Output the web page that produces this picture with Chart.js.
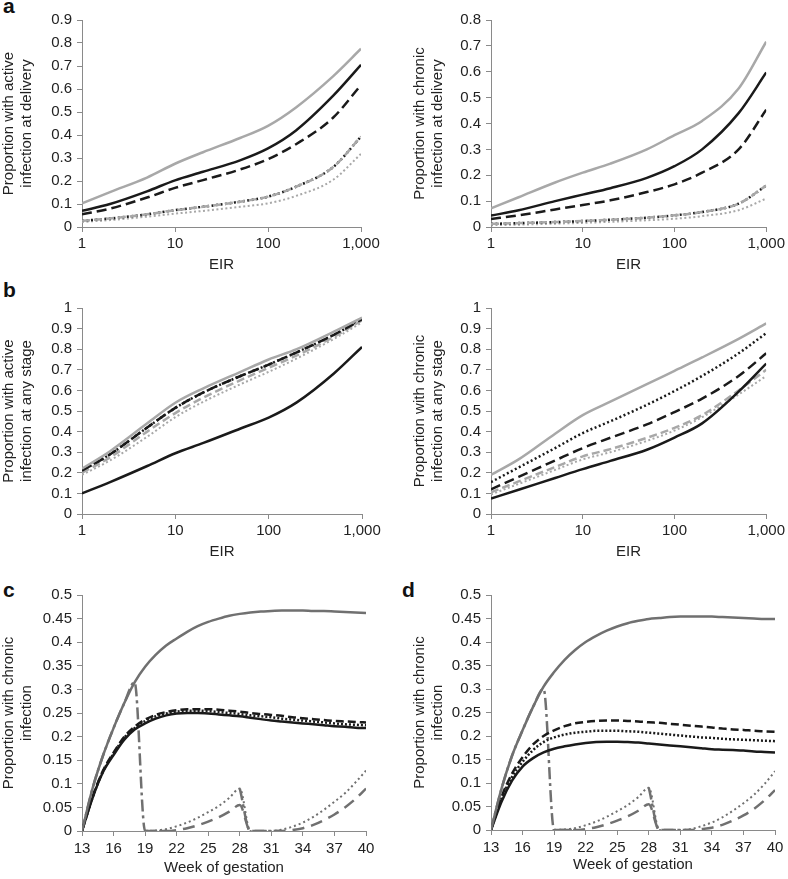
<!DOCTYPE html>
<html>
<head>
<meta charset="utf-8">
<script src="https://cdn.jsdelivr.net/npm/chart.js@4.4.1/dist/chart.umd.min.js"></script>
<style>
  html, body { margin: 0; padding: 0; background: #fff; }
  body { width: 788px; height: 879px; position: relative; overflow: hidden; font-family: "Liberation Sans", Arial, sans-serif; }
  canvas { position: absolute; }
  .letter { position: absolute; font-weight: bold; font-size: 21px; line-height: 21px; color: #111; }
</style>
</head>
<body>
<div class="letter" style="left:3px;top:-5px">a</div>
<div class="letter" style="left:3px;top:279px">b</div>
<div class="letter" style="left:3px;top:579px">c</div>
<div class="letter" style="left:402px;top:579px">d</div>

<canvas id="a-left" width="394" height="285" style="left:0;top:0"></canvas>
<canvas id="a-right" width="394" height="285" style="left:394px;top:0"></canvas>
<canvas id="b-left" width="394" height="290" style="left:0;top:285px"></canvas>
<canvas id="b-right" width="394" height="290" style="left:394px;top:285px"></canvas>
<canvas id="c-panel" width="394" height="304" style="left:0;top:575px"></canvas>
<canvas id="d-panel" width="394" height="304" style="left:394px;top:575px"></canvas>

<script>
// x values
const eir = [1, 2, 5, 10, 20, 50, 100, 200, 500, 1000];
const eirTicks = [1, 10, 100, 1000];
const weeks = [13, 14, 15, 16, 17, 18, 19, 20, 21, 22, 23, 24, 25, 26, 27, 28, 29, 30, 31, 32, 33, 34, 35, 36, 37, 38, 39, 40];
const weekTicks = [13, 16, 19, 22, 25, 28, 31, 34, 37, 40];

// a: active infection at delivery
const aActGraySolid   = [0.103, 0.152, 0.215, 0.275, 0.325, 0.387, 0.44, 0.52, 0.655, 0.775];
const aActBlackSolid  = [0.07, 0.1, 0.155, 0.203, 0.24, 0.29, 0.342, 0.42, 0.57, 0.705];
const aActBlackDashed = [0.055, 0.08, 0.128, 0.17, 0.204, 0.25, 0.295, 0.36, 0.475, 0.617];
const aActGrayDashed  = [0.027, 0.037, 0.055, 0.073, 0.088, 0.11, 0.132, 0.175, 0.26, 0.393];
const aActBlackDotted = [0.027, 0.037, 0.055, 0.073, 0.088, 0.11, 0.132, 0.175, 0.26, 0.393];
const aActGrayDotted  = [0.022, 0.03, 0.045, 0.058, 0.07, 0.088, 0.103, 0.135, 0.205, 0.318];

// a: chronic infection at delivery
const aChrGraySolid   = [0.072, 0.115, 0.172, 0.21, 0.245, 0.3, 0.355, 0.41, 0.535, 0.716];
const aChrBlackSolid  = [0.044, 0.065, 0.1, 0.125, 0.15, 0.19, 0.235, 0.3, 0.44, 0.597];
const aChrBlackDashed = [0.031, 0.045, 0.068, 0.085, 0.103, 0.135, 0.165, 0.21, 0.3, 0.453];
const aChrGrayDashed  = [0.012, 0.015, 0.019, 0.023, 0.028, 0.036, 0.045, 0.058, 0.09, 0.16];
const aChrBlackDotted = [0.012, 0.015, 0.019, 0.023, 0.028, 0.036, 0.045, 0.058, 0.09, 0.16];
const aChrGrayDotted  = [0.007, 0.009, 0.013, 0.016, 0.02, 0.026, 0.032, 0.042, 0.065, 0.11];

// b: active infection at any stage
const bActGraySolid   = [0.22, 0.305, 0.44, 0.54, 0.61, 0.69, 0.75, 0.8, 0.885, 0.953];
const bActBlackSolid  = [0.1, 0.155, 0.233, 0.295, 0.345, 0.415, 0.468, 0.542, 0.682, 0.811];
const bActBlackDashed = [0.21, 0.29, 0.42, 0.515, 0.59, 0.67, 0.725, 0.785, 0.87, 0.945];
const bActGrayDashed  = [0.2, 0.275, 0.4, 0.49, 0.565, 0.65, 0.71, 0.77, 0.86, 0.94];
const bActBlackDotted = [0.21, 0.29, 0.42, 0.515, 0.59, 0.67, 0.725, 0.785, 0.87, 0.945];
const bActGrayDotted  = [0.19, 0.26, 0.375, 0.47, 0.545, 0.63, 0.69, 0.755, 0.85, 0.93];

// b: chronic infection at any stage
const bChrGraySolid   = [0.19, 0.265, 0.39, 0.48, 0.545, 0.63, 0.695, 0.76, 0.85, 0.925];
const bChrBlackSolid  = [0.075, 0.118, 0.175, 0.218, 0.258, 0.312, 0.371, 0.44, 0.594, 0.73];
const bChrBlackDashed = [0.12, 0.18, 0.26, 0.32, 0.37, 0.435, 0.495, 0.56, 0.67, 0.78];
const bChrGrayDashed  = [0.105, 0.158, 0.228, 0.28, 0.315, 0.37, 0.418, 0.48, 0.6, 0.7];
const bChrBlackDotted = [0.155, 0.226, 0.32, 0.393, 0.45, 0.53, 0.597, 0.67, 0.78, 0.878];
const bChrGrayDotted  = [0.095, 0.146, 0.214, 0.265, 0.3, 0.355, 0.405, 0.47, 0.58, 0.67];

// c: chronic infection by week
const cGraySolid   = [0, 0.09, 0.16, 0.218, 0.27, 0.315, 0.348, 0.373, 0.393, 0.408, 0.422, 0.434, 0.443, 0.45, 0.456, 0.46, 0.463, 0.465, 0.466, 0.467, 0.467, 0.467, 0.466, 0.466, 0.465, 0.464, 0.463, 0.462];
const cBlackSolid  = [0, 0.07, 0.125, 0.161, 0.193, 0.215, 0.228, 0.238, 0.245, 0.249, 0.25, 0.25, 0.249, 0.247, 0.245, 0.243, 0.24, 0.237, 0.234, 0.232, 0.23, 0.228, 0.226, 0.224, 0.222, 0.221, 0.219, 0.218];
const cBlackDashed = [0, 0.072, 0.128, 0.166, 0.199, 0.221, 0.236, 0.246, 0.252, 0.256, 0.258, 0.258, 0.258, 0.257, 0.255, 0.253, 0.25, 0.248, 0.246, 0.244, 0.241, 0.239, 0.237, 0.235, 0.233, 0.232, 0.231, 0.23];
const cBlackDotted = [0, 0.071, 0.126, 0.164, 0.197, 0.218, 0.233, 0.243, 0.249, 0.253, 0.255, 0.255, 0.254, 0.252, 0.25, 0.248, 0.245, 0.243, 0.241, 0.238, 0.236, 0.234, 0.232, 0.23, 0.228, 0.226, 0.225, 0.224];
const cGrayDashDot = [0, 0.09, 0.16, 0.218, 0.27, 0.315, 0, 0, 0, null, null, null, null, null, null, 0.09, 0, 0, 0, 0, null, null, null, null, null, null, null, null];
const cGrayDashed  = [null, null, null, null, null, null, 0, 0, 0, 0.002, 0.006, 0.012, 0.02, 0.029, 0.041, 0.055, 0, 0, 0, 0, 0.002, 0.006, 0.013, 0.023, 0.035, 0.05, 0.068, 0.09];
const cGrayDotted  = [null, null, null, null, null, null, 0, 0.001, 0.004, 0.01, 0.018, 0.028, 0.04, 0.053, 0.07, 0.09, 0, 0, 0, 0.003, 0.009, 0.018, 0.03, 0.045, 0.062, 0.08, 0.103, 0.128];

// d: chronic infection by week
const dGraySolid   = [0, 0.088, 0.158, 0.212, 0.262, 0.305, 0.336, 0.362, 0.383, 0.4, 0.413, 0.424, 0.433, 0.44, 0.445, 0.449, 0.451, 0.453, 0.454, 0.454, 0.454, 0.454, 0.453, 0.452, 0.451, 0.45, 0.449, 0.449];
const dBlackSolid  = [0, 0.06, 0.105, 0.135, 0.153, 0.165, 0.173, 0.178, 0.182, 0.185, 0.187, 0.188, 0.188, 0.187, 0.186, 0.184, 0.182, 0.18, 0.178, 0.176, 0.174, 0.172, 0.171, 0.17, 0.169, 0.167, 0.166, 0.165];
const dBlackDashed = [0, 0.07, 0.12, 0.155, 0.182, 0.2, 0.212, 0.221, 0.227, 0.23, 0.232, 0.233, 0.233, 0.232, 0.231, 0.229, 0.228, 0.226, 0.224, 0.222, 0.22, 0.218, 0.216, 0.214, 0.213, 0.211, 0.21, 0.209];
const dBlackDotted = [0, 0.067, 0.113, 0.145, 0.17, 0.187, 0.197, 0.203, 0.207, 0.209, 0.211, 0.211, 0.211, 0.21, 0.209, 0.207, 0.205, 0.203, 0.201, 0.199, 0.197, 0.196, 0.194, 0.193, 0.192, 0.191, 0.19, 0.189];
const dGrayDashDot = [0, 0.088, 0.158, 0.212, 0.262, 0.3, 0, 0, 0, null, null, null, null, null, null, 0.09, 0, 0, 0, 0, null, null, null, null, null, null, null, null];
const dGrayDashed  = [null, null, null, null, null, null, 0, 0, 0, 0.002, 0.006, 0.012, 0.02, 0.029, 0.041, 0.055, 0, 0, 0, 0, 0.002, 0.005, 0.011, 0.02, 0.031, 0.045, 0.063, 0.085];
const dGrayDotted  = [null, null, null, null, null, null, 0, 0.001, 0.004, 0.01, 0.018, 0.028, 0.04, 0.053, 0.07, 0.09, 0, 0, 0, 0.002, 0.008, 0.016, 0.027, 0.041, 0.057, 0.075, 0.098, 0.125];

Chart.defaults.font.family = '"Liberation Sans", Arial, sans-serif';
Chart.defaults.font.size = 15;
Chart.defaults.color = '#222';

const LIGHT = '#a8a8a8';
const MID = '#707070';
const BLACK = '#1a1a1a';
const AXIS = '#8a8a8a';

function line(xs, ys, color, width, dash) {
  return {
    data: xs.map((x, i) => ({ x: x, y: ys[i] })),
    borderColor: color,
    borderWidth: width,
    borderDash: dash || [],
    fill: false,
    pointRadius: 0,
    cubicInterpolationMode: 'monotone',
    borderCapStyle: 'butt',
    spanGaps: false
  };
}

// box = canvas rect on page, area = plot rect on page
function makePanel(id, box, area, xOpts, yMax, yStep, yTitle, yTitlePad, xTitle, xTitlePad, xTickPad, datasets) {
  const axisGrid = { drawOnChartArea: false, drawTicks: true, tickLength: 5, color: AXIS, lineWidth: 1 };
  return new Chart(document.getElementById(id), {
    type: 'line',
    data: { datasets: datasets },
    options: {
      responsive: false,
      animation: false,
      layout: { padding: { left: 0, top: area.t - box.y, right: box.x + box.w - area.r, bottom: 0 } },
      plugins: { legend: { display: false }, tooltip: { enabled: false } },
      scales: {
        x: Object.assign({
          border: { color: AXIS, width: 1 },
          grid: axisGrid,
          ticks: { padding: xTickPad, autoSkip: false, maxRotation: 0 },
          title: { display: true, text: xTitle, padding: { top: 0, bottom: xTitlePad } },
          afterFit: s => { s.height = box.y + box.h - area.b; }
        }, xOpts),
        y: {
          type: 'linear',
          min: 0,
          max: yMax,
          border: { color: AXIS, width: 1 },
          grid: axisGrid,
          ticks: { stepSize: yStep, autoSkip: false, padding: 5, callback: v => String(+v.toFixed(2)) },
          title: { display: true, text: yTitle, padding: { top: yTitlePad, bottom: 0 }, font: { lineHeight: 1.2 } },
          afterFit: s => { s.width = area.l - box.x; }
        }
      }
    }
  });
}

const logX = {
  type: 'logarithmic',
  min: 1,
  max: 1000,
  afterBuildTicks: s => { s.ticks = eirTicks.map(v => ({ value: v })); }
};
logX.ticks = { callback: v => Number(v).toLocaleString('en-US') };

const weekX = {
  type: 'linear',
  min: 13,
  max: 40,
  afterBuildTicks: s => { s.ticks = weekTicks.map(v => ({ value: v })); }
};

function eirSets(gs, bs, bd, gd, bdot, gdot) {
  return [
    line(eir, gs, LIGHT, 2.5),
    line(eir, bs, BLACK, 2.5),
    line(eir, bd, BLACK, 2.5, [10, 5]),
    line(eir, gd, LIGHT, 2.5, [8, 4]),
    line(eir, bdot, BLACK, 2.5, [2, 2.5]),
    line(eir, gdot, LIGHT, 2, [2, 2.5])
  ];
}

function weekSets(gs, bs, bd, bdot, gdd, gd, gdot) {
  return [
    line(weeks, gs, MID, 2.5),
    line(weeks, bs, BLACK, 2.5),
    line(weeks, bd, BLACK, 2.5, [8, 4]),
    line(weeks, bdot, BLACK, 2.5, [2, 2]),
    line(weeks, gdd, MID, 2.5, [12, 4, 3, 4]),
    line(weeks, gd, MID, 2.5, [12, 7]),
    line(weeks, gdot, MID, 2, [2, 3])
  ];
}

const chartA1 = makePanel('a-left', { x: 0, y: 0, w: 394, h: 285 }, { l: 82, t: 20, r: 361, b: 227 },
  Object.assign({}, logX), 0.9, 0.1, ['Proportion with active', 'infection at delivery'], 0, 'EIR', 11, 5,
  eirSets(aActGraySolid, aActBlackSolid, aActBlackDashed, aActGrayDashed, aActBlackDotted, aActGrayDotted));

const chartA2 = makePanel('a-right', { x: 394, y: 0, w: 394, h: 285 }, { l: 491, t: 20, r: 770, b: 227 },
  Object.assign({}, logX), 0.8, 0.1, ['Proportion with chronic', 'infection at delivery'], 17, 'EIR', 11, 5,
  eirSets(aChrGraySolid, aChrBlackSolid, aChrBlackDashed, aChrGrayDashed, aChrBlackDotted, aChrGrayDotted));

const chartB1 = makePanel('b-left', { x: 0, y: 285, w: 394, h: 290 }, { l: 82, t: 308, r: 362, b: 514 },
  Object.assign({}, logX), 1, 0.1, ['Proportion with active', 'infection at any stage'], 0, 'EIR', 14, 5,
  eirSets(bActGraySolid, bActBlackSolid, bActBlackDashed, bActGrayDashed, bActBlackDotted, bActGrayDotted));

const chartB2 = makePanel('b-right', { x: 394, y: 285, w: 394, h: 290 }, { l: 491, t: 308, r: 770, b: 514 },
  Object.assign({}, logX), 1, 0.1, ['Proportion with chronic', 'infection at any stage'], 17, 'EIR', 14, 5,
  eirSets(bChrGraySolid, bChrBlackSolid, bChrBlackDashed, bChrGrayDashed, bChrBlackDotted, bChrGrayDotted));

const chartC = makePanel('c-panel', { x: 0, y: 575, w: 394, h: 304 }, { l: 82, t: 595, r: 366, b: 831 },
  Object.assign({}, weekX), 0.5, 0.05, ['Proportion with chronic', 'infection'], 0, 'Week of gestation', 2, 4,
  weekSets(cGraySolid, cBlackSolid, cBlackDashed, cBlackDotted, cGrayDashDot, cGrayDashed, cGrayDotted));

const chartD = makePanel('d-panel', { x: 394, y: 575, w: 394, h: 304 }, { l: 491, t: 595, r: 775, b: 830 },
  Object.assign({}, weekX), 0.5, 0.05, ['Proportion with chronic', 'infection'], 17, 'Week of gestation', 5, 4,
  weekSets(dGraySolid, dBlackSolid, dBlackDashed, dBlackDotted, dGrayDashDot, dGrayDashed, dGrayDotted));
</script>
</body>
</html>
